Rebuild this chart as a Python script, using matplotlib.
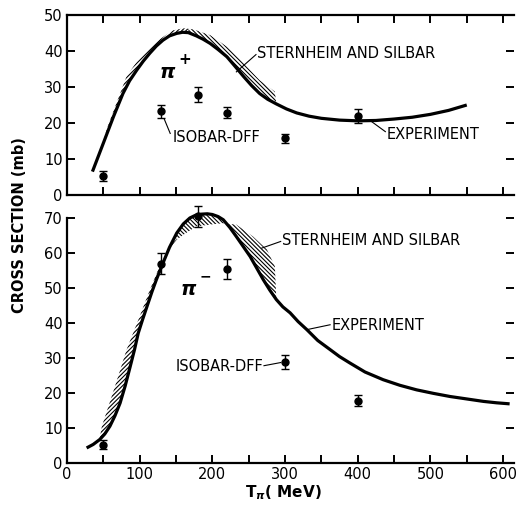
import numpy as np
import matplotlib.pyplot as plt
from matplotlib.ticker import MultipleLocator

plt.rcParams['font.family'] = ['DejaVu Sans']
plt.rcParams['hatch.linewidth'] = 0.8

# pi+ panel: measured (experiment) curve
exp_p_x = [35, 50, 64, 77, 86, 96, 105, 114, 123, 132, 141, 151, 159, 167, 178, 187, 197, 208,
           220, 231, 243, 254, 265, 276, 288, 302, 316, 333, 350, 375, 400, 425, 450, 475, 500, 525, 550]
exp_p_y = [6.5, 14.4, 21.8, 28.2, 31.7, 34.7, 37.2, 39.4, 41.4, 43.0, 44.2, 44.9, 45.2, 45.1, 44.2,
           43.3, 42.1, 40.4, 38.4, 35.8, 32.9, 30.4, 28.2, 26.6, 25.3, 23.9, 22.8, 21.9, 21.3, 20.8,
           20.6, 20.7, 21.1, 21.6, 22.4, 23.5, 25.0]
# pi+ panel: Sternheim and Silbar band edge
th_p_x = [50, 55, 68, 82, 96, 110, 128, 145, 160, 167, 174, 197, 220, 243, 265, 286, 288]
th_p_y = [14.8, 18.5, 25.5, 33.0, 37.0, 40.0, 43.3, 45.7, 46.3, 46.2, 46.0, 44.4, 41.2, 36.6, 31.9, 28.7, 25.3]
# pi+ panel: isobar-DFF points
iso_p_x = [50, 130, 180, 220, 300, 400]
iso_p_y = [5.3, 23.2, 27.9, 22.9, 15.7, 21.9]
iso_p_err = [1.5, 1.9, 2.0, 1.6, 1.3, 2.0]

# pi- panel
exp_m_x = [27, 36, 45, 52, 59, 66, 73, 80, 87, 93, 98, 104, 110, 117, 123, 132, 141, 151, 160, 169,
           177, 185, 193, 200, 208, 215, 224, 233, 242, 252, 261, 270, 279, 288, 297, 307, 318, 330,
           345, 362, 375, 389, 410, 435, 458, 481, 504, 527, 550, 573, 591, 609]
exp_m_y = [4.3, 5.3, 6.7, 8.3, 10.5, 13.5, 17.1, 22.0, 27.6, 32.5, 37.1, 41.0, 44.7, 49.0, 52.4,
           57.1, 61.6, 65.7, 68.3, 70.0, 70.8, 71.1, 71.2, 71.0, 70.4, 69.5, 67.3, 64.7, 62.0, 59.0,
           55.7, 52.4, 49.4, 46.7, 44.6, 42.9, 40.4, 38.1, 35.0, 32.4, 30.4, 28.6, 26.0, 23.8, 22.2,
           20.9, 19.9, 19.0, 18.3, 17.6, 17.2, 16.9]
th_m_x = [45, 48, 66, 82, 100, 114, 128, 142, 151, 160, 178, 200, 215, 233, 256, 275, 286, 288]
th_m_y = [7.0, 10.5, 21.9, 32.4, 41.9, 49.5, 56.5, 61.5, 63.8, 65.2, 67.6, 68.2, 68.5, 68.1, 64.7, 61.0, 56.2, 46.7]
iso_m_x = [50, 130, 180, 220, 300, 400]
iso_m_y = [5.2, 57.0, 70.5, 55.5, 29.0, 17.8]
iso_m_err = [1.3, 3.0, 3.0, 2.8, 2.0, 1.5]

W, H = 518, 507
fig = plt.figure(figsize=(W / 100, H / 100), dpi=100)
ax1 = fig.add_axes([67 / W, 1 - 195 / H, 447 / W, 180 / H])
ax2 = fig.add_axes([67 / W, 1 - 463 / H, 447 / W, 259 / H])

UP = '/' * 8
DOWN = '\\' * 8


def band(ax, tx, ty, ex, ey, lo, hi, hatch):
    # hatched polygon between the theory edge and the experiment curve, lo <= x <= hi
    px = [x for x in tx if lo <= x <= hi] + [x for x in ex if lo <= x <= hi][::-1]
    py = [y for x, y in zip(tx, ty) if lo <= x <= hi] + \
         [y for x, y in zip(ex, ey) if lo <= x <= hi][::-1]
    ax.fill(px, py, facecolor='none', edgecolor='black', hatch=hatch, linewidth=0)


for ax in (ax1, ax2):
    ax.set_xlim(0, 615)
    ax.spines['right'].set_visible(False)
    for s in ('left', 'bottom', 'top'):
        ax.spines[s].set_linewidth(1.6)
    ax.tick_params(which='both', direction='in', length=6, width=1.4,
                   right=True, labelsize=10.5, pad=3)
    ax.yaxis.set_major_locator(MultipleLocator(10))

# top panel
band(ax1, th_p_x, th_p_y, exp_p_x, exp_p_y, 50, 167, UP)
band(ax1, th_p_x, th_p_y, exp_p_x, exp_p_y, 167, 288, DOWN)
ax1.plot(exp_p_x, exp_p_y, color='black', lw=2.3, solid_capstyle='butt')
ax1.errorbar(iso_p_x, iso_p_y, yerr=iso_p_err, fmt='o', color='black', ms=5,
             capsize=3, elinewidth=1, capthick=1)
ax1.set_ylim(0, 50)
ax1.xaxis.set_major_locator(MultipleLocator(50))
ax1.tick_params(top=True, labelbottom=False)

ax1.text(261, 39.4, 'STERNHEIM AND SILBAR', fontsize=10.5, va='center')
ax1.plot([260, 233], [39.0, 34.2], color='black', lw=0.8)
ax1.text(440, 16.7, 'EXPERIMENT', fontsize=10.5, va='center')
ax1.plot([438, 419], [17.6, 20.4], color='black', lw=0.8)
ax1.text(146, 16.1, 'ISOBAR-DFF', fontsize=10.5, va='center')
ax1.plot([142, 134], [17.1, 21.0], color='black', lw=0.8)
ax1.text(138, 33.9, r'$\boldsymbol{\pi}$', fontsize=14, ha='center', va='center')
ax1.text(162, 37.6, '+', fontsize=11, fontweight='bold', ha='center', va='center')

# bottom panel
band(ax2, th_m_x, th_m_y, exp_m_x, exp_m_y, 45, 151, UP)
band(ax2, th_m_x, th_m_y, exp_m_x, exp_m_y, 151, 288, DOWN)
ax2.plot(exp_m_x, exp_m_y, color='black', lw=2.3, solid_capstyle='butt')
ax2.errorbar(iso_m_x, iso_m_y, yerr=iso_m_err, fmt='o', color='black', ms=5,
             capsize=3, elinewidth=1, capthick=1, clip_on=False)
ax2.set_ylim(0, 74)
ax2.spines['top'].set_visible(False)
ax2.spines['left'].set_bounds(0, 70)
ax2.set_yticks(range(0, 71, 10))
ax2.set_xticks(range(0, 601, 100))
ax2.set_xticks(range(50, 601, 100), minor=True)
ax2.tick_params(top=False)

ax2.text(296, 63.5, 'STERNHEIM AND SILBAR', fontsize=10.5, va='center')
ax2.plot([294, 268], [63.3, 61.4], color='black', lw=0.8)
ax2.text(364, 39.2, 'EXPERIMENT', fontsize=10.5, va='center')
ax2.plot([362, 330], [39.5, 38.1], color='black', lw=0.8)
ax2.text(149, 27.6, 'ISOBAR-DFF', fontsize=10.5, va='center')
ax2.plot([271, 294], [27.8, 28.7], color='black', lw=0.8)
ax2.text(168, 49.5, r'$\boldsymbol{\pi}$', fontsize=14, ha='center', va='center')
ax2.text(191, 53.2, '−', fontsize=10, fontweight='bold', ha='center', va='center')

fig.text(20 / W, 1 - 225 / H, 'CROSS SECTION (mb)', rotation=90, fontsize=10.5,
         fontweight='bold', ha='center', va='center')
fig.text(283 / W, 1 - 493 / H, r'$\mathbf{T}_{\boldsymbol{\pi}}$( MeV)', fontsize=11,
         fontweight='bold', ha='center', va='center')

fig.savefig('out.png', dpi=100)
